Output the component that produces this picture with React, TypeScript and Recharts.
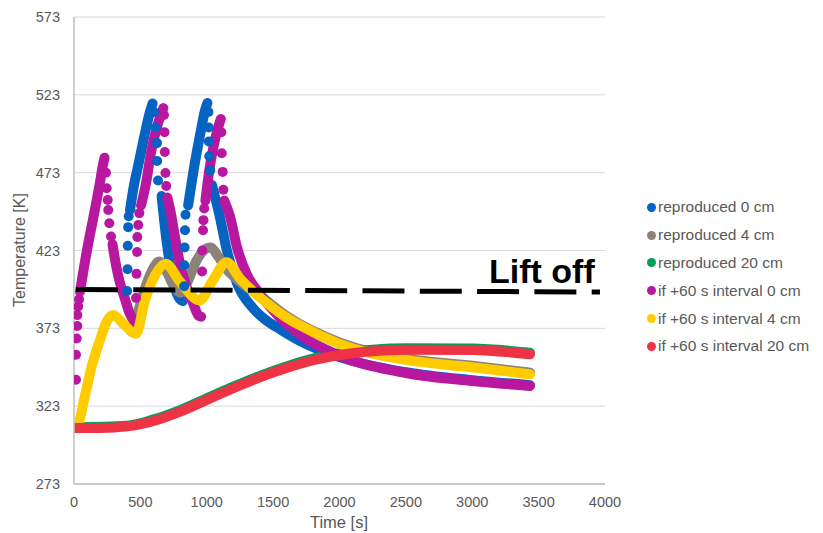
import { ComposedChart, Line, Scatter, XAxis, YAxis, CartesianGrid } from 'recharts';

// time [s] vs temperature [K]
const xTicks = [0, 500, 1000, 1500, 2000, 2500, 3000, 3500, 4000];
const yTicks = [273, 323, 373, 423, 473, 523, 573];

// dense parts of each series (drawn as thick bands); T: null breaks the band
const blueBand = [
    { t: 422, T: 449 }, { t: 452, T: 465 }, { t: 482, T: 477 }, { t: 535, T: 498.5 }, { t: 572, T: 512 }, { t: 592, T: 517.5 },
    { t: 620, T: null },
    { t: 660, T: 458 }, { t: 693, T: 432 }, { t: 731, T: 410 }, { t: 768, T: 397 }, { t: 800, T: 391.5 }, { t: 820, T: 390.5 },
    { t: 840, T: null },
    { t: 860, T: 452 }, { t: 904, T: 476 }, { t: 949, T: 497 }, { t: 987, T: 513 }, { t: 1005, T: 517.8 },
    { t: 1020, T: null },
    { t: 1040, T: 465 }, { t: 1100, T: 444 }, { t: 1152, T: 423 }, { t: 1228, T: 402 }, { t: 1348, T: 386 },
    { t: 1450, T: 378 }, { t: 1560, T: 372 }, { t: 1700, T: 365 }, { t: 2000, T: 354.5 }, { t: 2500, T: 344.8 },
    { t: 3000, T: 339.7 }, { t: 3435, T: 336.5 },
];
const blueDots = [
    { t: 400, T: 397 }, { t: 403, T: 411 }, { t: 405, T: 426 }, { t: 408, T: 438 }, { t: 412, T: 445 },
    { t: 603, T: 512 }, { t: 617, T: 502 }, { t: 625, T: 492 }, { t: 626, T: 480.5 }, { t: 633, T: 468 },
    { t: 830, T: 400 }, { t: 831, T: 413.5 }, { t: 833, T: 425 }, { t: 836, T: 436 }, { t: 840, T: 446 },
    { t: 1013, T: 512 }, { t: 1015, T: 502 }, { t: 1016, T: 493 }, { t: 1019, T: 483.5 }, { t: 1026, T: 474.5 },
];

const greyBand = [
    { t: 430, T: 371 }, { t: 480, T: 383 }, { t: 540, T: 400 }, { t: 600, T: 412 }, { t: 640, T: 416 }, { t: 700, T: 409 },
    { t: 760, T: 399 }, { t: 800, T: 396 }, { t: 850, T: 402 }, { t: 920, T: 416 }, { t: 990, T: 424 }, { t: 1030, T: 425 },
    { t: 1080, T: 420 }, { t: 1150, T: 411 }, { t: 1250, T: 403 }, { t: 1400, T: 394 }, { t: 1600, T: 381 },
    { t: 2000, T: 364 }, { t: 2500, T: 353.7 }, { t: 3000, T: 349 }, { t: 3435, T: 344.5 },
];

const greenBand = [
    { t: 0, T: 309.5 }, { t: 400, T: 310.5 }, { t: 600, T: 314.5 }, { t: 800, T: 320.5 }, { t: 1000, T: 328 },
    { t: 1200, T: 335.5 }, { t: 1400, T: 342.5 }, { t: 1600, T: 348.5 }, { t: 1800, T: 353.5 }, { t: 2000, T: 357 },
    { t: 2250, T: 359.3 }, { t: 2500, T: 360.2 }, { t: 3000, T: 360 }, { t: 3435, T: 357.3 },
];

const magentaBand = [
    { t: 45, T: 396.5 }, { t: 98, T: 423.3 }, { t: 147, T: 444.7 }, { t: 192, T: 465 }, { t: 218, T: 478 }, { t: 230, T: 482.6 },
    { t: 236, T: null },
    { t: 290, T: 427 }, { t: 320, T: 412 }, { t: 350, T: 401 }, { t: 380, T: 393 }, { t: 420, T: 382.5 }, { t: 450, T: 378 }, { t: 470, T: 376.5 },
    { t: 480, T: null },
    { t: 505, T: 452 }, { t: 542, T: 466 }, { t: 580, T: 486 }, { t: 629, T: 503.5 }, { t: 673, T: 514.5 },
    { t: 676, T: null },
    { t: 703, T: 457 }, { t: 725, T: 449 }, { t: 760, T: 432 }, { t: 802, T: 413 }, { t: 850, T: 399 }, { t: 900, T: 388.5 },
    { t: 940, T: 381 }, { t: 958, T: 380.5 },
    { t: 962, T: null },
    { t: 990, T: 455 }, { t: 1017, T: 473.4 }, { t: 1055, T: 491.4 }, { t: 1089, T: 503 }, { t: 1106, T: 507.5 },
    { t: 1108, T: null },
    { t: 1132, T: 455 }, { t: 1175, T: 445 }, { t: 1228, T: 425 }, { t: 1300, T: 408 }, { t: 1400, T: 395 },
    { t: 1550, T: 380 }, { t: 1700, T: 369 }, { t: 2000, T: 355.5 }, { t: 2500, T: 344.3 }, { t: 3000, T: 339.2 }, { t: 3435, T: 336 },
];
const magentaDots = [
    { t: 15, T: 340 }, { t: 15, T: 356 }, { t: 20, T: 366.5 }, { t: 25, T: 374.5 }, { t: 25, T: 381.5 }, { t: 32, T: 387 }, { t: 38, T: 391.6 },
    { t: 241, T: 473 }, { t: 246, T: 463 }, { t: 254, T: 455.4 }, { t: 258, T: 449 }, { t: 266, T: 440.5 }, { t: 279, T: 432 },
    { t: 467, T: 392.5 }, { t: 471, T: 408 }, { t: 475, T: 422 }, { t: 477, T: 431.7 }, { t: 484, T: 439.4 }, { t: 492, T: 447 },
    { t: 678, T: 510 }, { t: 682, T: 499 }, { t: 684, T: 486.3 }, { t: 689, T: 472.8 }, { t: 695, T: 464.4 },
    { t: 965, T: 409.5 }, { t: 966, T: 423 }, { t: 972, T: 436 }, { t: 975, T: 442.5 }, { t: 981, T: 450 },
    { t: 1110, T: 499 }, { t: 1113, T: 485.5 }, { t: 1120, T: 473.5 }, { t: 1125, T: 462 },
];

const yellowBand = [
    { t: 0, T: 309 }, { t: 30, T: 311 }, { t: 83, T: 330 }, { t: 136, T: 349.4 }, { t: 196, T: 365.5 }, { t: 241, T: 376.4 },
    { t: 294, T: 381.6 }, { t: 370, T: 376 }, { t: 467, T: 369.5 }, { t: 535, T: 391 }, { t: 610, T: 407 }, { t: 690, T: 414.5 },
    { t: 798, T: 403 }, { t: 945, T: 391 }, { t: 1047, T: 404 }, { t: 1150, T: 415.5 }, { t: 1250, T: 405 }, { t: 1400, T: 393 },
    { t: 1600, T: 380 }, { t: 1700, T: 375 }, { t: 2000, T: 363 }, { t: 2500, T: 352.7 }, { t: 3000, T: 348 }, { t: 3435, T: 343.5 },
];

const redBand = [
    { t: 0, T: 309 }, { t: 200, T: 309 }, { t: 400, T: 310 }, { t: 600, T: 313.5 }, { t: 800, T: 319.5 }, { t: 1000, T: 327 },
    { t: 1200, T: 334.5 }, { t: 1400, T: 341.5 }, { t: 1600, T: 347.5 }, { t: 1800, T: 352.5 }, { t: 2000, T: 355.9 },
    { t: 2250, T: 358.3 }, { t: 2500, T: 359.3 }, { t: 3000, T: 359.1 }, { t: 3435, T: 356.3 },
];

const liftOff = [{ t: 15, T: 398 }, { t: 3962, T: 396.3 }];

const seriesNames = [
    'reproduced 0 cm',
    'reproduced 4 cm',
    'reproduced 20 cm',
    'if +60 s interval 0 cm',
    'if +60 s interval 4 cm',
    'if +60 s interval 20 cm',
];

const BLUE = '#0563c1';
const GREY = '#8b8279';
const GREEN = '#00a05a';
const MAGENTA = '#b818a0';
const YELLOW = '#ffcc00';
const RED = '#ee3344';
const colors = [BLUE, GREY, GREEN, MAGENTA, YELLOW, RED];

const FONT = '"Liberation Sans", Arial, sans-serif';
const TEXT = '#595959';

const dotShape = (color: string) => (p: any) => <circle cx={p.cx} cy={p.cy} r={5} fill={color} />;

const band = (data: any[], color: string) => (
    <Line
        data={data}
        dataKey="T"
        type="monotone"
        stroke={color}
        strokeWidth={10}
        strokeLinecap="round"
        strokeLinejoin="round"
        dot={false}
        activeDot={false}
        connectNulls={false}
        isAnimationActive={false}
    />
);

export default function App() {
    return (
        <div style={{ position: 'absolute', left: 0, top: 0, width: 823, height: 533, background: '#fff', fontFamily: FONT }}>
            <ComposedChart width={823} height={533} margin={{ top: 17, right: 218, bottom: 0, left: 0 }}>
                <CartesianGrid horizontal vertical={false} stroke="#d9d9d9" />
                <XAxis
                    type="number"
                    dataKey="t"
                    domain={[0, 4000]}
                    ticks={xTicks}
                    height={49}
                    tickSize={0}
                    tickMargin={13}
                    axisLine={{ stroke: '#bfbfbf', strokeWidth: 1.5 }}
                    tick={{ fill: TEXT, fontSize: 14.5, fontFamily: FONT }}
                    allowDataOverflow
                />
                <YAxis
                    type="number"
                    domain={[273, 573]}
                    ticks={yTicks}
                    width={74}
                    tickSize={0}
                    tickMargin={14}
                    axisLine={{ stroke: '#bfbfbf', strokeWidth: 1.5 }}
                    tick={{ fill: TEXT, fontSize: 14.5, fontFamily: FONT }}
                    allowDataOverflow
                />
                {band(blueBand, BLUE)}
                <Scatter data={blueDots} dataKey="T" fill={BLUE} shape={dotShape(BLUE)} isAnimationActive={false} />
                {band(greyBand, GREY)}
                {band(greenBand, GREEN)}
                {band(magentaBand, MAGENTA)}
                <Scatter data={magentaDots} dataKey="T" fill={MAGENTA} shape={dotShape(MAGENTA)} isAnimationActive={false} />
                {band(yellowBand, YELLOW)}
                {band(redBand, RED)}
                <Line
                    data={liftOff}
                    dataKey="T"
                    type="linear"
                    stroke="#000"
                    strokeWidth={5}
                    strokeDasharray="42 15.3"
                    dot={false}
                    activeDot={false}
                    isAnimationActive={false}
                />
            </ComposedChart>

            {/* Lift off annotation */}
            <div style={{ position: 'absolute', left: 489, top: 254, fontSize: 34, lineHeight: '34px', fontWeight: 'bold', color: '#000', whiteSpace: 'nowrap' }}>
                Lift off
            </div>

            {/* axis titles */}
            <div
                style={{
                    position: 'absolute', left: 20, top: 250, fontSize: 16, color: TEXT, whiteSpace: 'nowrap',
                    transform: 'translate(-50%, -50%) rotate(-90deg)',
                }}
            >
                Temperature [K]
            </div>
            <div style={{ position: 'absolute', left: 339, top: 513, fontSize: 16.5, lineHeight: '19px', color: TEXT, whiteSpace: 'nowrap', transform: 'translateX(-50%)' }}>
                Time [s]
            </div>

            {/* Legend */}
            {seriesNames.map((name, i) => (
                <div
                    key={name}
                    style={{ position: 'absolute', left: 647, top: 207.3 + i * 27.8 - 10, height: 20, display: 'flex', alignItems: 'center', whiteSpace: 'nowrap' }}
                >
                    <span style={{ width: 9, height: 9, borderRadius: '50%', background: colors[i], display: 'inline-block', marginRight: 2 }} />
                    <span style={{ fontSize: 15.5, color: TEXT }}>{name}</span>
                </div>
            ))}
        </div>
    );
}
